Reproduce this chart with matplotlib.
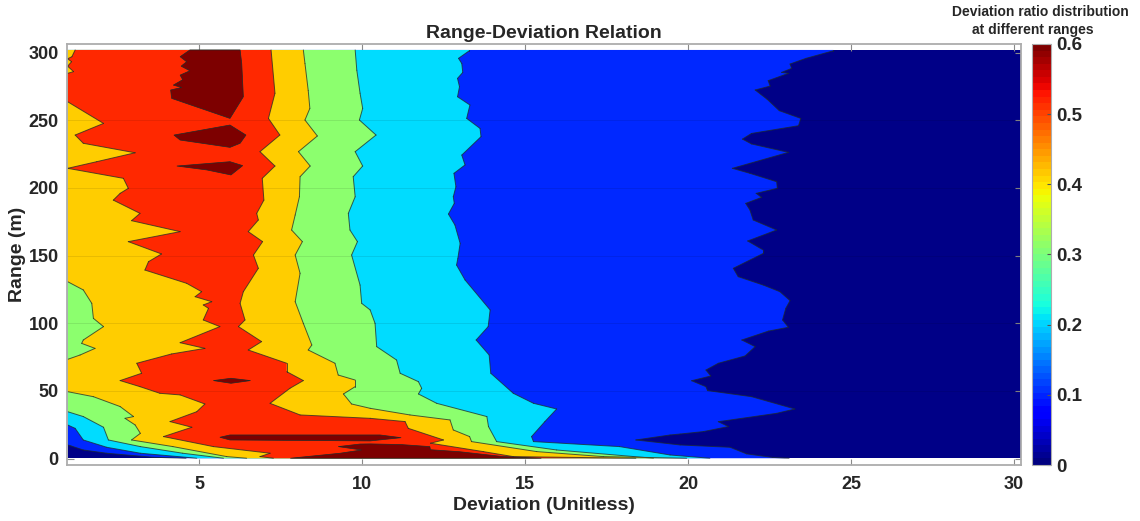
import matplotlib
matplotlib.use("Agg")
import matplotlib.pyplot as plt
from matplotlib.cm import ScalarMappable
from matplotlib.colors import Normalize

plt.rcParams['font.family'] = ['Liberation Sans', 'DejaVu Sans']
plt.rcParams['font.weight'] = 'bold'

TOP = 302
# contour edges as (deviation, range), running from top to bottom
blue_left = [(1, TOP), (1, 10), (1.07, 9.3), (1.45, 6.3), (2.17, 3.9), (3.6, 0.9), (4.6, 0.2)]
blue_right = [(24.46, TOP), (24.46, 301.4), (23.62, 295.8), (23.13, 291.6), (23.18, 288.4), (22.87, 285.4),
              (23.08, 284.7), (22.46, 279.3), (22.52, 275.3), (22.06, 272.4), (22.43, 265.5), (22.8, 257.1),
              (23.46, 251.4), (23.39, 246), (21.95, 240.3), (21.67, 236.1), (21.95, 232.5), (23.08, 226.3),
              (21.9, 218.2), (21.36, 214.5), (21.9, 210.8), (22.72, 204.6), (22.74, 199.7), (22.09, 196),
              (22.26, 193), (21.77, 188.6), (21.9, 183.7), (22.0, 176.3), (22.72, 168.9), (21.83, 160.8),
              (22.31, 154.1), (22.31, 151.6), (21.39, 140.6), (21.54, 134.4), (22.31, 128.2), (22.82, 123.3),
              (23.13, 116.7), (23.0, 111), (22.9, 102.4), (23.08, 97), (22.47, 94.2), (21.65, 87.6),
              (22.06, 82.7), (21.75, 75.8), (20.93, 70.4), (20.55, 65.4), (20.7, 61), (20.11, 57.5),
              (20.55, 53.1), (20.6, 50.2), (21.95, 45.7), (23.28, 36.6), (22.72, 33.4), (20.93, 27.2),
              (21.24, 23.6), (20.47, 19.9), (19.76, 18.1), (19.45, 17.4), (18.4, 13.7), (19.76, 10),
              (21.29, 8.3), (21.8, 3.4), (22.6, 0.8), (23.1, 0.2)]

cyan_left = [(1, TOP), (1, 24.8), (1.2, 22.3), (1.45, 13.7), (2.17, 8.3), (3.2, 3.9), (4.93, 0.2)]
cyan_right = [(13.29, TOP), (13.29, 301.4), (12.96, 295.8), (13.06, 292), (13.09, 285.4), (12.93, 281),
              (12.99, 274.8), (12.93, 267.4), (13.31, 261.3), (13.21, 251.4), (13.62, 244), (13.65, 237.9),
              (13.06, 224.3), (13.16, 217), (12.82, 210.8), (12.88, 200.9), (12.8, 193.5), (12.83, 188.6),
              (12.65, 180.7), (12.85, 172.6), (13.01, 159), (12.94, 148), (12.9, 143), (13.16, 132),
              (13.93, 109.8), (13.87, 97.5), (13.5, 87.6), (13.9, 76.5), (13.95, 63), (14.64, 48.2),
              (15.26, 40.8), (15.97, 36.6), (15.61, 27.3), (15.2, 16.2), (15.26, 12.5), (17.9, 8.8),
              (19.45, 2.6), (20.67, 0.2)]

green_left = [(1, TOP), (1, 34.6), (1.45, 31), (2.07, 23.1), (2.22, 13.7), (3.2, 8.8), (4.5, 3.9), (5.75, 0.2)]
green_right = [(9.79, TOP), (9.84, 287), (9.94, 270), (10.02, 258.8), (9.92, 250.2), (10.43, 239.1),
               (9.79, 226.8), (10.02, 216.2), (9.73, 208.3), (9.79, 193.5), (9.58, 181.2), (9.63, 168.9),
               (9.86, 160.3), (9.68, 150.4), (9.94, 128.2), (9.99, 114.7), (10.25, 109.8), (10.4, 99.9),
               (10.45, 82.7), (11.06, 72.8), (11.17, 63), (11.73, 56.8), (11.83, 51.9), (11.73, 47.7),
               (12.29, 40.8), (13.83, 31), (13.88, 23.6), (14.13, 12.5), (15.97, 6.3), (18.94, 0.2)]

orange_left = [(1, TOP), (1, 130.7), (1.45, 124.6), (1.71, 114.7), (1.76, 103.6), (2.07, 97.5), (1.45, 87.6),
               (1.4, 85.1), (1.81, 81.4), (1.35, 76.5), (1, 73.3), (1, 49.4), (1.76, 45.7), (2.58, 38.4),
               (2.99, 31), (2.73, 29.7), (3.04, 24.8), (3.2, 18.6), (2.93, 13.7), (4.2, 8.8), (5.85, 1.4),
               (6.46, 0.2)]
orange_right = [(8.2, TOP), (8.25, 292), (8.35, 272), (8.4, 258.8), (8.25, 250.2), (8.63, 238.4), (8.05, 226.8),
                (8.41, 216.2), (8.1, 208.3), (8.08, 193.5), (7.95, 180), (7.84, 168.9), (8.17, 160.3),
                (7.95, 150.4), (8.1, 136.9), (7.95, 115.9), (8.2, 99.9), (8.46, 83.9), (8.35, 80.2),
                (9.17, 70.4), (9.27, 61.7), (9.79, 58), (9.79, 53.1), (9.43, 47.7), (9.68, 40.3),
                (10.25, 37.1), (11.47, 32.2), (12.7, 28.5), (12.8, 21.1), (13.3, 16.2), (13.36, 12.5),
                (15.36, 5.1), (17.4, 1.4), (19.96, 0.2)]

red_left = [(1.2, TOP), (1.1, 297), (1.0, 295.5), (1.09, 293.3), (1.0, 290), (1.15, 286), (1, 284.7), (1, 263.7),
            (2.07, 247.7), (1.2, 239.1), (1.45, 233), (3.04, 226), (1.86, 219.4), (1, 214.5), (2.68, 207.1),
            (2.83, 199.7), (2.58, 196), (2.37, 191), (3.19, 181.2), (2.93, 175.8), (4.42, 167.7), (2.83, 160.3),
            (3.85, 151.2), (3.45, 145.5), (3.34, 139.3), (4.62, 129.5), (5.08, 123.3), (4.88, 119.6),
            (5.39, 115.9), (5.13, 113.5), (5.29, 111), (5.13, 102.4), (5.64, 97.5), (4.42, 85.6), (5.18, 81.4),
            (4.16, 77.3), (3.09, 70.4), (3.24, 63), (2.58, 57.6), (3.19, 53.1), (3.8, 48.2), (4.42, 47),
            (5.18, 40.3), (4.93, 34.6), (4.11, 27.3), (4.78, 23.1), (3.91, 16.2), (5.44, 8.8), (7.18, 3.9),
            (6.87, 1.4), (7.28, 0.2)]
red_right = [(7.21, TOP), (7.33, 270), (7.13, 251.4), (7.48, 239.1), (6.87, 226.8), (7.33, 216.2), (6.94, 207.1),
             (6.99, 191), (6.77, 181.2), (6.82, 176.3), (6.51, 167.7), (6.95, 160.3), (6.67, 150.4), (6.82, 140.6),
             (6.36, 123.3), (6.26, 114.7), (6.41, 102.4), (6.21, 97.5), (6.92, 86.4), (6.51, 80.2), (7.69, 70.4),
             (7.69, 64.2), (8.2, 57.6), (7.79, 51.9), (7.18, 40.8), (8.1, 32.2), (10.25, 29.7), (11.32, 27.3),
             (11.42, 22.3), (12.5, 13.7), (12.1, 11.3), (13.72, 5.1), (14.64, 1.4), (18.4, 0.2)]

# closed islands of the highest band
peak_a = [(4.72, TOP), (4.42, 297), (4.62, 293.3), (4.45, 290), (4.72, 286.6), (4.42, 283.4), (4.5, 280), (4.21, 276),
          (4.47, 274.3), (4.13, 272.4), (4.16, 266.2), (5.95, 251.4), (6.36, 267.4), (6.31, 292), (6.26, TOP)]
peak_b = [(4.23, 239.1), (5.95, 246.5), (6.44, 239.1), (6.26, 233), (5.95, 230), (4.42, 235.4)]
peak_c = [(4.32, 216.2), (5.95, 219.4), (6.34, 216.5), (5.98, 209.6), (5.24, 213.3)]
peak_d = [(5.44, 57.6), (5.98, 59.3), (6.58, 57.6), (5.98, 55.6)]
peak_e = [(5.64, 15.7), (5.95, 17.4), (10.55, 17.4), (11.2, 15.4), (10.25, 13), (5.95, 13.7)]
peak_f = [(9.27, 8.8), (9.94, 10.7), (10.25, 10.8), (11.2, 10.3), (12.08, 8.8), (12.1, 6.5), (13, 5), (14.3, 1.5),
          (15.5, 0.2), (7.8, 0.2), (8.3, 1.4), (9.33, 3.9), (9.99, 6.3)]
peaks = [peak_a, peak_b, peak_c, peak_d, peak_e, peak_f]

x_ticks = [5, 10, 15, 20, 25, 30]
y_ticks = [0, 50, 100, 150, 200, 250, 300]
cbar_ticks = [0, 0.1, 0.2, 0.3, 0.4, 0.5, 0.6]
cbar_labels = ['0', '0.1', '0.2', '0.3', '0.4', '0.5', '0.6']

NAVY, BLUE, CYAN, GREEN, ORANGE, RED, DARK = '#000087', '#0028FF', '#00DCFF', '#8CFF6E', '#FFCD00', '#FF2800', '#7D0000'
TXT = '#262626'
SPINE = '#ADADAD'
EDGE = '#1E2A2A'
W, H = 1140, 521
DATA_LEFT = 0.97


def xval(d):
    return DATA_LEFT if d <= 1 else d


fig = plt.figure(figsize=(W / 100, H / 100), dpi=100)
ax = fig.add_axes([67 / W, 1 - 465 / H, (1020.5 - 67) / W, (465 - 44) / H])
ax.set_xlim(0.95, 30.2)
ax.set_ylim(-4.8, 306.4)

# base band
ax.fill([DATA_LEFT, 30.2, 30.2, DATA_LEFT], [0.2, 0.2, TOP, TOP], color=NAVY, lw=0, zorder=1)

bands = [(blue_left, blue_right, BLUE), (cyan_left, cyan_right, CYAN), (green_left, green_right, GREEN),
         (orange_left, orange_right, ORANGE), (red_left, red_right, RED)]
for i, (left, right, colour) in enumerate(bands):
    poly = left[::-1] + right
    ax.fill([xval(p[0]) for p in poly], [p[1] for p in poly], color=colour, lw=0, zorder=2 + i)
    for edge in (left, right):
        # outline every stretch except those lying along the data's left side
        for a, b in zip(edge[:-1], edge[1:]):
            if a[0] <= 1 and b[0] <= 1:
                continue
            ax.plot([xval(a[0]), xval(b[0])], [a[1], b[1]], color=EDGE, lw=0.7, alpha=0.75,
                    zorder=2 + i, solid_capstyle='round')
for peak in peaks:
    ax.fill([p[0] for p in peak], [p[1] for p in peak], facecolor=DARK, edgecolor=EDGE, lw=0.5, zorder=8)

for v in y_ticks[1:-1]:
    ax.axhline(v, color='black', lw=0.6, alpha=0.1, zorder=9)

ax.set_xticks(x_ticks)
ax.set_yticks(y_ticks)
ax.tick_params(direction='in', length=6.5 * 0.72, width=0.8, color='#8A8A8A', top=True, right=True,
               labelsize=13, labelcolor=TXT)
ax.tick_params(axis='x', pad=8)
ax.tick_params(axis='y', pad=6)
for s in ax.spines.values():
    s.set_color(SPINE)
    s.set_linewidth(1.3)
    s.set_zorder(12)

ax.set_xlabel('Deviation (Unitless)', fontsize=14, fontweight='bold', color=TXT, labelpad=3)
ax.set_ylabel('Range (m)', fontsize=14, fontweight='bold', color=TXT, labelpad=2)
ax.set_title('Range-Deviation Relation', fontsize=14, fontweight='bold', color=TXT, pad=4)

cax = fig.add_axes([1032.3 / W, 1 - 465 / H, 18.5 / W, (465 - 44) / H])
sm = ScalarMappable(norm=Normalize(0, 0.6), cmap=plt.get_cmap('jet', 64))
cb = fig.colorbar(sm, cax=cax)
cb.set_ticks(cbar_ticks)
cb.set_ticklabels(cbar_labels)
cb.ax.tick_params(direction='in', length=3, width=0.8, color='#555555', labelsize=13.5, labelcolor=TXT, pad=4)
cb.outline.set_edgecolor(SPINE)
cb.outline.set_linewidth(0.8)

fig.text(1040 / W, 1 - 12 / H, 'Deviation ratio distribution', fontsize=10, fontweight='bold', color=TXT,
         ha='center', va='center')
fig.text(1033 / W, 1 - 30 / H, 'at different ranges', fontsize=10, fontweight='bold', color=TXT,
         ha='center', va='center')

fig.savefig('out.png', dpi=100)
